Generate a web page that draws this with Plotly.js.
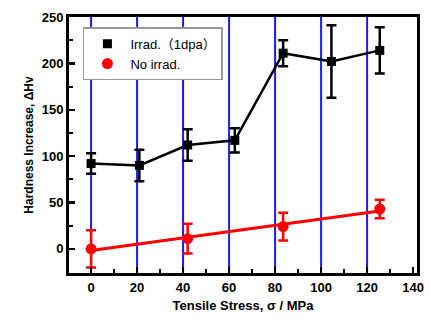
<!DOCTYPE html>
<html>
<head>
<meta charset="utf-8">
<script src="https://cdn.plot.ly/plotly-3.0.1.min.js"></script>
<style>html,body{margin:0;padding:0;background:#fff;}#chart{width:430px;height:320px;}</style>
</head>
<body>
<div id="chart"></div>
<script>
const irradX = [0, 21, 42, 62.5, 83.5, 104.5, 125.5];
const irradY = [92, 90, 112, 117, 211, 202, 214];
const irradErr = [11, 17, 17, 13, 14, 39, 25];
const noIrradX = [0, 42, 83.5, 125.5];
const noIrradY = [0, 11, 24, 43];
const noIrradErr = [20, 16, 15, 10];
const blueLineX = [0, 20, 40, 60, 80, 100, 120];
const xTicks = [0, 20, 40, 60, 80, 100, 120, 140];
const yTicks = [0, 50, 100, 150, 200, 250];
const seriesNames = ['Irrad.（1dpa）', 'No irrad.'];

// least-squares fit for the non-irradiated series
const n = noIrradX.length;
const mx = noIrradX.reduce((a,b)=>a+b,0)/n, my = noIrradY.reduce((a,b)=>a+b,0)/n;
let sxy=0, sxx=0;
for (let i=0;i<n;i++){sxy+=(noIrradX[i]-mx)*(noIrradY[i]-my);sxx+=(noIrradX[i]-mx)**2;}
const slope = sxy/sxx, icpt = my - slope*mx;
const fitX = [Math.min(...noIrradX), Math.max(...noIrradX)];
const fitY = fitX.map(x=>icpt+slope*x);

const traces = [
  {x: fitX, y: fitY, mode:'lines', line:{color:'#ff0000', width:3}, showlegend:false, hoverinfo:'skip'},
  {x: irradX, y: irradY, mode:'lines', line:{color:'#000', width:2.5}, showlegend:false, hoverinfo:'skip'},
  {x: irradX, y: irradY, mode:'markers', name:seriesNames[0],
   marker:{symbol:'square', size:9, color:'#000'},
   error_y:{type:'data', array:irradErr, visible:true, color:'#000', thickness:2.5, width:5}},
  {x: noIrradX, y: noIrradY, mode:'markers', name:seriesNames[1],
   marker:{symbol:'circle', size:11, color:'#ff0000'},
   error_y:{type:'data', array:noIrradErr, visible:true, color:'#ff0000', thickness:2.5, width:5}}
];

const shapes = blueLineX.map(x=>({type:'line', xref:'x', yref:'paper', x0:x, x1:x, y0:0, y1:1,
  line:{color:'#1a1aff', width:2}, layer:'below'}));

const tickFont = {family:'Liberation Sans, Arial, sans-serif', size:13, color:'#000', weight:'bold'};
const layout = {
  width:430, height:320,
  margin:{l:69, r:13, t:17, b:47},
  paper_bgcolor:'#fff', plot_bgcolor:'#fff',
  shapes: shapes,
  xaxis:{range:[-9.6, 141.7], tickvals:xTicks, ticktext:xTicks.map(String), showgrid:false, zeroline:false,
    showline:true, mirror:true, linecolor:'#000', linewidth:3,
    ticks:'inside', ticklen:6, tickwidth:2.5, tickcolor:'#000',
    minor:{dtick:10, ticks:'inside', ticklen:4, tickwidth:2, tickcolor:'#000'},
    tickfont:tickFont,
    title:{text:'Tensile Stress, σ / MPa', font:{family:'Liberation Sans, Arial, sans-serif', size:13, color:'#000', weight:'bold'}, standoff:8}},
  yaxis:{range:[-26, 250], tickvals:yTicks, ticktext:yTicks.map(String), showgrid:false, zeroline:false,
    showline:true, mirror:true, linecolor:'#000', linewidth:3,
    ticks:'inside', ticklen:6, tickwidth:2.5, tickcolor:'#000',
    minor:{dtick:25, ticks:'inside', ticklen:4, tickwidth:2, tickcolor:'#000'},
    tickfont:tickFont,
    title:{text:'Hardness Increase, ΔHv', font:{family:'Liberation Sans, Arial, sans-serif', size:12, color:'#000', weight:'bold'}, standoff:6}},
  showlegend:true,
  legend:{x:0.04, y:0.96, xanchor:'left', yanchor:'top', bgcolor:'#fff', bordercolor:'#999', borderwidth:1.5,
    font:{family:'Liberation Sans, Noto Sans CJK JP, sans-serif', size:13, color:'#000'}, tracegroupgap:0, itemwidth:36}
};

Plotly.newPlot('chart', traces, layout, {displayModeBar:false, staticPlot:true});
</script>
</body>
</html>
